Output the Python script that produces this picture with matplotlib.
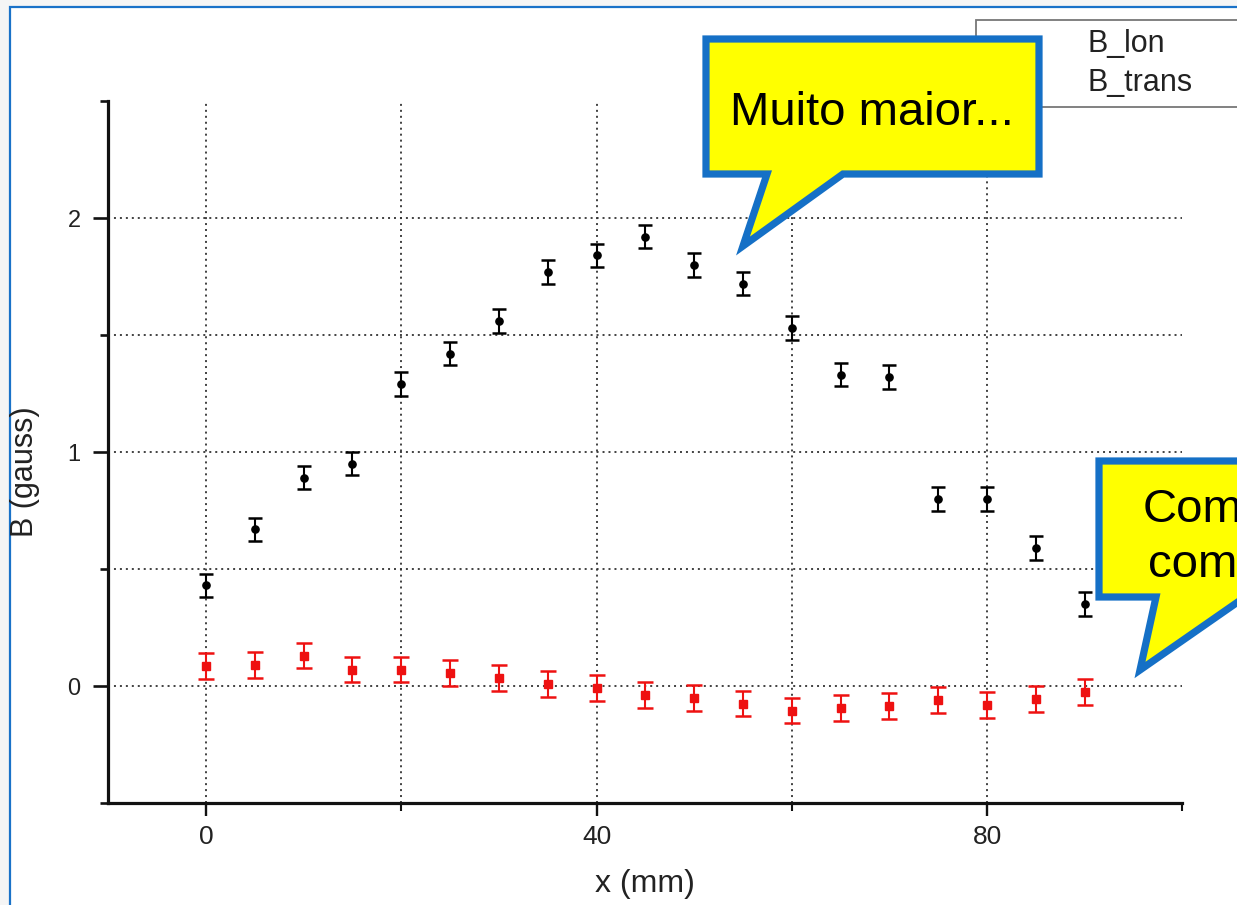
import matplotlib
matplotlib.use("Agg")
import matplotlib.pyplot as plt
from matplotlib.patches import Polygon, Rectangle
from matplotlib.transforms import Affine2D
from matplotlib.legend_handler import HandlerErrorbar
from matplotlib import font_manager

# ---- data ---------------------------------------------------------------
x_mm = [0, 5, 10, 15, 20, 25, 30, 35, 40, 45, 50, 55, 60, 65, 70, 75, 80, 85, 90]
b_lon = [0.43, 0.67, 0.89, 0.95, 1.29, 1.42, 1.56, 1.77, 1.84, 1.92,
         1.80, 1.72, 1.53, 1.33, 1.32, 0.80, 0.80, 0.59, 0.35]
b_lon_err = [0.05] * 19
b_trans = [0.085, 0.09, 0.13, 0.07, 0.07, 0.055, 0.035, 0.01, -0.01, -0.04,
           -0.05, -0.075, -0.105, -0.095, -0.085, -0.06, -0.08, -0.055, -0.025]
b_trans_err = [0.055] * 19

series_labels = ["B_lon", "B_trans"]
x_major_ticks = [0, 40, 80]
x_tick_labels = ["0", "40", "80"]
x_minor_ticks = [20, 60, 100]
y_major_ticks = [0, 1, 2]
y_tick_labels = ["0", "1", "2"]
y_minor_ticks = [-0.5, 0.5, 1.5, 2.5]
callout_top = "Muito maior..."
callout_right = ["Compatível", "com zero"]

# ---- figure -------------------------------------------------------------
W, H = 1237, 905
fig = plt.figure(figsize=(W / 100, H / 100), dpi=100, facecolor="#f5f5f5")

# pixel coordinates (origin top-left) -> figure
px = Affine2D().scale(1.0 / W, -1.0 / H).translate(0, 1) + fig.transFigure

installed = {f.name for f in font_manager.fontManager.ttflist}
SANS = "Liberation Sans" if "Liberation Sans" in installed else "DejaVu Sans"
NARROW = "Liberation Sans Narrow" if "Liberation Sans Narrow" in installed else SANS
plt.rcParams["font.family"] = [SANS, "DejaVu Sans"]

# slide frame
fig.patches.append(Rectangle((10, 7), 1400, 1000, transform=px, facecolor="white",
                             edgecolor="#1a72c8", linewidth=1.6, zorder=-5))

left_px, right_px = 108.4, 1182.3
top_px, bottom_px = 101.0, 803.0
ax = fig.add_axes([left_px / W, 1 - bottom_px / H,
                   (right_px - left_px) / W, (bottom_px - top_px) / H])
ax.set_facecolor("none")
ax.set_xlim(-10, 100)
ax.set_ylim(-0.5, 2.5)

# dotted grid
grid_kw = dict(color="#333333", linewidth=1.3, linestyle=(0, (1.1, 2.2)), zorder=1)
for gx in [0, 20, 40, 60, 80]:
    ax.axvline(gx, **grid_kw)
for gy in [0, 0.5, 1, 1.5, 2]:
    ax.axhline(gy, **grid_kw)

eb_lon = ax.errorbar(x_mm, b_lon, yerr=b_lon_err, fmt="o", color="black",
                     markersize=5.2, elinewidth=1.5, capsize=5, capthick=1.8,
                     zorder=3, label=series_labels[0])
eb_trans = ax.errorbar(x_mm, b_trans, yerr=b_trans_err, fmt="s", color="#ee1111",
                       markersize=5.8, elinewidth=1.5, capsize=5.5, capthick=1.8,
                       zorder=3, label=series_labels[1])

# axes styling
for s in ["top", "right"]:
    ax.spines[s].set_visible(False)
for s in ["left", "bottom"]:
    ax.spines[s].set_linewidth(2.3)
    ax.spines[s].set_color("#111111")

ax.set_xticks(x_major_ticks)
ax.set_xticklabels(x_tick_labels, family=[NARROW, "DejaVu Sans"], fontsize=19)
ax.set_xticks(x_minor_ticks, minor=True)
ax.set_yticks(y_major_ticks)
ax.set_yticklabels(y_tick_labels, fontsize=17)
ax.set_yticks(y_minor_ticks, minor=True)
ax.tick_params(axis="x", which="major", direction="out", length=9, width=1.7,
               pad=7, colors="#111111")
ax.tick_params(axis="x", which="minor", direction="out", length=6, width=1.5,
               colors="#111111")
ax.tick_params(axis="y", which="major", direction="out", length=11, width=1.9,
               pad=9, colors="#111111")
ax.tick_params(axis="y", which="minor", direction="out", length=6, width=1.9,
               colors="#111111")
for lbl in ax.get_xticklabels() + ax.get_yticklabels():
    lbl.set_color("#222222")

ax.set_xlabel("x (mm)", fontsize=23, color="#222222")
ax.xaxis.set_label_coords((645 - left_px) / (right_px - left_px),
                          (bottom_px - 884) / (bottom_px - top_px))
ax.xaxis.label.set_va("center")
ax.set_ylabel("B (gauss)", fontsize=22, color="#222222")
ax.yaxis.set_label_coords((25 - left_px) / (right_px - left_px),
                          (bottom_px - 472) / (bottom_px - top_px))
ax.yaxis.label.set_va("center")

# legend (its symbols sit behind the callout)
leg = ax.legend(handles=[eb_lon, eb_trans], labels=series_labels,
                handler_map={type(eb_lon): HandlerErrorbar(xerr_size=0.12,
                                                           yerr_size=0.12)},
                loc="upper left",
                bbox_to_anchor=(976 / W, 1 - 20 / H, 320 / W, 0.0),
                bbox_transform=fig.transFigure, mode="expand", fontsize=22,
                frameon=True, fancybox=False, borderpad=0.3, labelspacing=0.3,
                handlelength=2.0, handleheight=0.4, handletextpad=1.35,
                borderaxespad=0)
leg.get_frame().set_edgecolor("#555555")
leg.get_frame().set_linewidth(1.3)
for t in leg.get_texts():
    t.set_color("#222222")

# speech-bubble callouts
yellow, blue = "#ffff00", "#1570c6"
bubble1 = [(706, 39), (1039, 39), (1039, 174), (843, 174), (743, 246),
           (767, 174), (706, 174)]
fig.patches.append(Polygon(bubble1, closed=True, transform=px, facecolor=yellow,
                           edgecolor=blue, linewidth=5.2, joinstyle="miter",
                           zorder=5))
fig.text(872, 125, callout_top, transform=px, fontsize=34, ha="center",
         va="baseline", color="black", zorder=6)

bubble2 = [(1099, 461), (1400, 461), (1400, 597), (1245, 597), (1140, 670),
           (1156, 597), (1099, 597)]
fig.patches.append(Polygon(bubble2, closed=True, transform=px, facecolor=yellow,
                           edgecolor=blue, linewidth=5.2, joinstyle="miter",
                           zorder=5))
fig.text(1143, 522, callout_right[0], transform=px, fontsize=34, ha="left",
         va="baseline", color="black", zorder=6)
fig.text(1148, 577, callout_right[1], transform=px, fontsize=34, ha="left",
         va="baseline", color="black", zorder=6)

fig.savefig("out.png", dpi=100, facecolor=fig.get_facecolor())
